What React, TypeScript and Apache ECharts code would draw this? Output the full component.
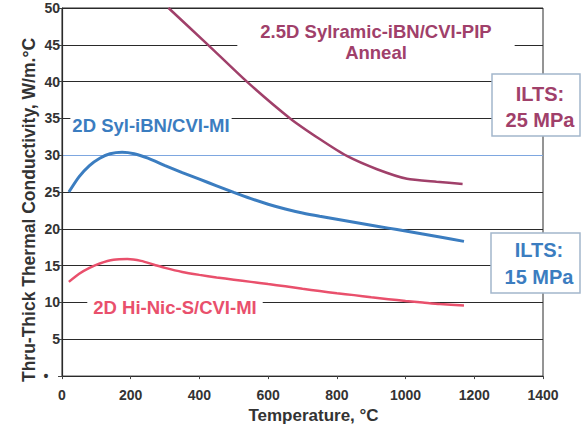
import React, { useEffect, useRef } from "react";
import * as echarts from "echarts";

const xTicks = [0, 200, 400, 600, 800, 1000, 1200, 1400];
const yTicks = [0, 5, 10, 15, 20, 25, 30, 35, 40, 45, 50];

const sylramicPip: [number, number][] = [
  [310, 50], [425, 45], [538, 40], [664, 35], [750, 32.2], [829, 29.9],
  [917, 28.1], [1004, 26.8], [1090, 26.4], [1166, 26.1],
];
const sylIbnMi: [number, number][] = [
  [20, 25], [50, 27.1], [80, 28.6], [110, 29.6], [140, 30.2], [175, 30.4],
  [210, 30.2], [250, 29.6], [300, 28.6], [350, 27.65], [400, 26.75], [450, 25.85],
  [500, 24.95], [550, 24.1], [600, 23.35], [650, 22.7], [700, 22.15], [750, 21.7],
  [800, 21.3], [850, 20.9], [900, 20.5], [950, 20.1], [1000, 19.7], [1050, 19.3],
  [1100, 18.9], [1170, 18.3],
];
const hiNicMi: [number, number][] = [
  [20, 12.8], [50, 13.9], [80, 14.7], [110, 15.3], [150, 15.8], [190, 15.9],
  [230, 15.65], [270, 15.1], [300, 14.7], [350, 14.15], [400, 13.75], [450, 13.4],
  [500, 13.1], [550, 12.8], [600, 12.5], [650, 12.2], [700, 11.85], [750, 11.55],
  [800, 11.25], [850, 11.0], [900, 10.7], [950, 10.45], [1000, 10.2], [1050, 10.0],
  [1100, 9.8], [1170, 9.6],
];

const MAROON = "#a0406a";
const BLUE = "#3b7dc0";
const PINK = "#e9506c";
const FONT = "Liberation Sans, Arial, sans-serif";

export default function App() {
  const ref = useRef<HTMLDivElement>(null);
  useEffect(() => {
    if (!ref.current) return;
    const chart = echarts.init(ref.current, null, { renderer: "svg" });
    const gridColors = yTicks.map((v) => (v === 30 ? "#7ea7e0" : "#2a2a2a"));
    chart.setOption({
      animation: false,
      backgroundColor: "#ffffff",
      textStyle: { fontFamily: FONT },
      grid: {
        left: 62, right: 38, top: 8, bottom: 46,
        show: true, borderColor: "#2a2a2a", borderWidth: 1,
      },
      xAxis: {
        type: "value",
        min: xTicks[0],
        max: xTicks[xTicks.length - 1],
        interval: 200,
        name: "Temperature, °C",
        nameLocation: "middle",
        nameGap: 29,
        nameTextStyle: { fontSize: 17, fontWeight: "bold", color: "#333", padding: [0, 0, 0, 22] },
        axisLine: { lineStyle: { color: "#2a2a2a", width: 1.2 } },
        axisTick: { length: 3, lineStyle: { color: "#444" } },
        axisLabel: {
          fontSize: 14, fontWeight: "bold", color: "#333", margin: 12,
          formatter: (v: number) => String(v),
        },
        splitLine: { show: false },
      },
      yAxis: {
        type: "value",
        min: 0,
        max: 50,
        interval: 5,
        axisLine: { lineStyle: { color: "#2a2a2a", width: 1.2 } },
        axisTick: { length: 4, lineStyle: { color: "#444" } },
        axisLabel: {
          fontSize: 14, fontWeight: "bold", color: "#333", margin: 2,
          showMinLabel: true,
          formatter: (v: number) => (v === 0 ? "•   " : String(v)),
        },
        splitLine: { show: true, lineStyle: { color: gridColors, width: 1.1 } },
      },
      series: [
        {
          type: "line", data: sylramicPip, showSymbol: false, smooth: 0.2,
          lineStyle: { color: MAROON, width: 2.5 }, clip: true,
        },
        {
          type: "line", data: sylIbnMi, showSymbol: false, smooth: 0.25,
          lineStyle: { color: BLUE, width: 3 },
        },
        {
          type: "line", data: hiNicMi, showSymbol: false, smooth: 0.25,
          lineStyle: { color: PINK, width: 2.5 },
        },
      ],
      graphic: [
        {
          type: "text", z: 100, x: 29, y: 210, rotation: Math.PI / 2,
          style: {
            text: "Thru-Thick Thermal Conductivity, W/m.°C",
            fill: "#333", font: `bold 17.5px ${FONT}`,
            align: "center", verticalAlign: "middle",
          },
        },
        {
          type: "text", z: 100, x: 376, y: 42,
          style: {
            text: "2.5D Sylramic-iBN/CVI-PIP\nAnneal",
            fill: MAROON, font: `bold 18.5px ${FONT}`,
            align: "center", verticalAlign: "middle", lineHeight: 21,
            backgroundColor: "#fff", padding: [1, 23],
          },
        },
        {
          type: "text", z: 100, x: 151, y: 125,
          style: {
            text: "2D Syl-iBN/CVI-MI",
            fill: BLUE, font: `bold 18.5px ${FONT}`,
            align: "center", verticalAlign: "middle",
            backgroundColor: "#fff", padding: [1, 2],
          },
        },
        {
          type: "text", z: 100, x: 175, y: 307,
          style: {
            text: "2D Hi-Nic-S/CVI-MI",
            fill: PINK, font: `bold 18.5px ${FONT}`,
            align: "center", verticalAlign: "middle",
            backgroundColor: "#fff", padding: [1, 6],
          },
        },
        {
          type: "rect", z: 100,
          shape: { x: 492, y: 74, width: 88, height: 62 },
          style: { fill: "#fff", stroke: "#a3b6cc", lineWidth: 1.5 },
        },
        {
          type: "text", z: 101, x: 540, y: 107,
          style: {
            text: "ILTS:\n25 MPa", fill: MAROON,
            font: `bold 20px ${FONT}`,
            align: "center", verticalAlign: "middle", lineHeight: 26,
          },
        },
        {
          type: "rect", z: 100,
          shape: { x: 491, y: 233, width: 89, height: 60 },
          style: { fill: "#fff", stroke: "#a3b6cc", lineWidth: 1.5 },
        },
        {
          type: "text", z: 101, x: 539, y: 263,
          style: {
            text: "ILTS:\n15 MPa", fill: BLUE,
            font: `bold 20px ${FONT}`,
            align: "center", verticalAlign: "middle", lineHeight: 27,
          },
        },
      ],
    });
    return () => chart.dispose();
  }, []);
  return (
    <div
      ref={ref}
      style={{ position: "absolute", left: 0, top: 0, width: 581, height: 429 }}
    />
  );
}
